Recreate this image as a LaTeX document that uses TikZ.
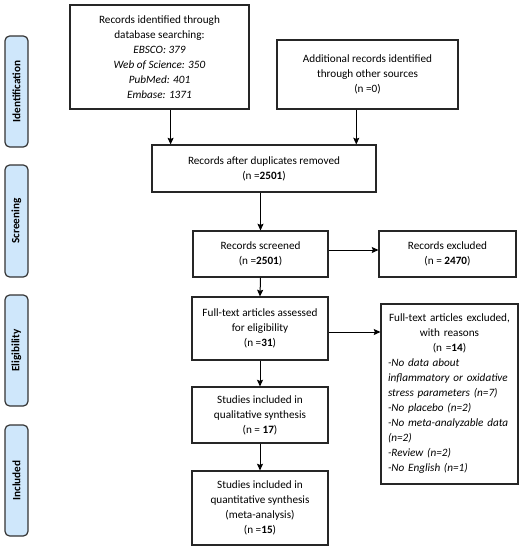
\documentclass[tikz,border=0pt]{standalone}
\usepackage{fontspec}
\setmainfont{Carlito}
\usepackage{tikz}
\usetikzlibrary{calc,arrows.meta}
\definecolor{phase}{RGB}{207,231,251}

\begin{document}
\begin{tikzpicture}[x=0.75pt, y=-0.75pt, >={Stealth[length=5pt,width=4.5pt,inset=0.8pt]},
		font=\fontsize{8.4}{11.25}\selectfont,
		box/.style={draw=black!85, line width=0.8pt, align=center, inner sep=0pt},
		phasebox/.style={draw=black!80, line width=0.9pt, fill=phase, rounded corners=3.5pt, rotate=90,
			minimum width=83.25pt, minimum height=17.25pt, inner sep=0pt, font=\fontsize{8.4}{10}\selectfont\bfseries},
		flow/.style={->, line width=0.75pt}]
		\useasboundingbox (0,0) rectangle (529,550);
		% phase labels
		\node[phasebox] (pid) at (16.5,91.5) {Identification};
		\node[phasebox, minimum width=84pt] (pscr) at (16.5,221) {Screening};
		\node[phasebox] (pelg) at (16.5,350.5) {Eligibility};
		\node[phasebox] (pinc) at (16.5,480.5) {Included};
		% boxes
		\node[box, minimum width=134.25pt, minimum height=78pt] (ident) at (159.5,57)
			{Records identified through\\database searching:\\\textit{EBSCO: 379}\\\textit{Web of Science: 350}\\\textit{PubMed: 401}\\\textit{Embase: 1371}};
		\node[box, minimum width=135.75pt, minimum height=51.75pt] (other) at (367.5,74.5)
			{Additional records identified\\through other sources\\(n =0)};
		\node[box, minimum width=168pt, minimum height=35.25pt] (dup) at (264,168.5)
			{Records after duplicates removed\\(n =\textbf{2501})};
		\node[box, minimum width=101.25pt, minimum height=34.5pt] (scr) at (260.5,254)
			{Records screened\\(n =\textbf{2501})};
		\node[box, minimum width=102.75pt, minimum height=34.5pt] (exc) at (447.5,254)
			{Records excluded\\(n = \textbf{2470})};
		\node[box, minimum width=102pt, minimum height=47.25pt] (full) at (260,328.5)
			{Full-text articles assessed\\for eligibility\\(n =\textbf{31})};
		\node[box, minimum height=135pt, text width=92.25pt, inner xsep=5.25pt, align=left] (excr) at (449.5,394)
			{\centering Full-text articles excluded,\\with reasons\\(n =\textbf{14})\par
			\raggedright\itshape -No data about\\inflammatory or oxidative\\stress parameters (n=7)\\-No placebo (n=2)\\-No meta-analyzable data\\(n=2)\\-Review (n=2)\\-No English (n=1)\par};
		\node[box, minimum width=102pt, minimum height=42pt] (qual) at (260,415)
			{Studies included in\\qualitative synthesis\\(n = \textbf{17})};
		\node[box, minimum width=102pt, minimum height=55.5pt] (quan) at (260,508)
			{Studies included in\\quantitative synthesis\\(meta-analysis)\\(n =\textbf{15})};
		% arrows
		\coordinate (d1) at ($(dup.north west)!0.085!(dup.north east)$);
		\coordinate (d2) at ($(dup.north west)!0.91!(dup.north east)$);
		\draw[flow] (ident.south -| d1) -- (d1);
		\draw[flow] (other.south -| d2) -- (d2);
		\draw[flow] (dup.south -| scr.north) -- (scr.north);
		\draw[flow] (scr.east) ++(0,-4) coordinate (s1) (scr.east |- s1) -- (exc.west |- s1);
		\draw[flow] (scr.south) -- (full.north);
		\draw[flow] (full.east) ++(0,3.5) coordinate (f1) (full.east |- f1) -- (excr.west |- f1);
		\draw[flow] (full.south) -- (qual.north);
		\draw[flow] (qual.south) -- (quan.north);
	\end{tikzpicture}
\end{document}
